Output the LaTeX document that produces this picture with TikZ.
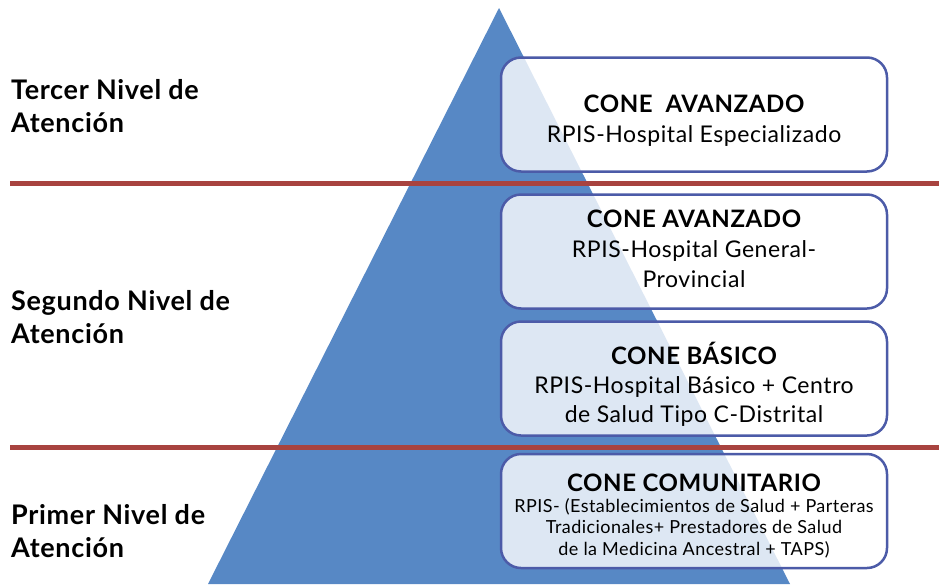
\documentclass[tikz,border=0pt]{standalone}
\usepackage{fontspec}
\setmainfont[LetterSpace=2.5]{Lato}
\definecolor{pyramid}{HTML}{5788C5}
\definecolor{divider}{HTML}{A8433F}
\definecolor{frame}{HTML}{4C5BA8}
\begin{document}
\begin{tikzpicture}[x=1pt, y=-1pt,
  level/.style={anchor=base west, align=left, inner sep=0pt, font=\fontsize{27}{33}\selectfont\bfseries},
  cone/.style={draw=frame, line width=2.5pt, rounded corners=20pt, fill=white, fill opacity=0.8, minimum width=386pt, minimum height=114pt},
  conetext/.style={align=center, inner sep=0pt, font=\fontsize{23}{30}\selectfont}]
  \useasboundingbox (0,0) rectangle (939,584);

  % pyramid and level dividers
  \fill[pyramid] (499,8) -- (790,584) -- (208,584) -- cycle;
  \draw[divider, line width=5pt] (10,183.5) -- (939,183.5);
  \draw[divider, line width=5pt] (10,447) -- (939,447);

  % levels of care
  \node[level] (third) at (11,132) {Tercer Nivel de\\Atención};
  \node[level] (second) at (11,343) {Segundo Nivel de\\Atención};
  \node[level] (first) at (11,557) {Primer Nivel de\\Atención};

  % cones
  \node[cone] (advtop) at (694,114.5) {};
  \node[cone] (advmid) at (694,251.5) {};
  \node[cone] (basic) at (694,378.5) {};
  \node[cone] (community) at (694,511) {};

  \node[conetext] (advtoptxt) at (694,120.5) {{\fontsize{24}{30}\selectfont\bfseries CONE\ \ AVANZADO}\\RPIS-Hospital Especializado};
  \node[conetext] (advmidtxt) at (694,249) {{\fontsize{24}{30}\selectfont\bfseries CONE AVANZADO}\\RPIS-Hospital General-\\Provincial};
  \node[conetext, font=\fontsize{23}{29}\selectfont] (basictxt) at (694,384.5) {{\fontsize{24}{29}\selectfont\bfseries CONE BÁSICO}\\RPIS-Hospital Básico + Centro\\de Salud Tipo C-Distrital};
  \node[conetext] (communitytxt) at (694,516) {{\fontsize{24}{30}\selectfont\bfseries CONE COMUNITARIO}\\[-9pt]
    {\fontsize{18}{21}\selectfont RPIS- (Establecimientos de Salud + Parteras}\\[-9pt]
    {\fontsize{18}{21}\selectfont Tradicionales+ Prestadores de Salud}\\[-8pt]
    {\fontsize{18}{21}\selectfont de la Medicina Ancestral + TAPS)}};
\end{tikzpicture}
\end{document}
